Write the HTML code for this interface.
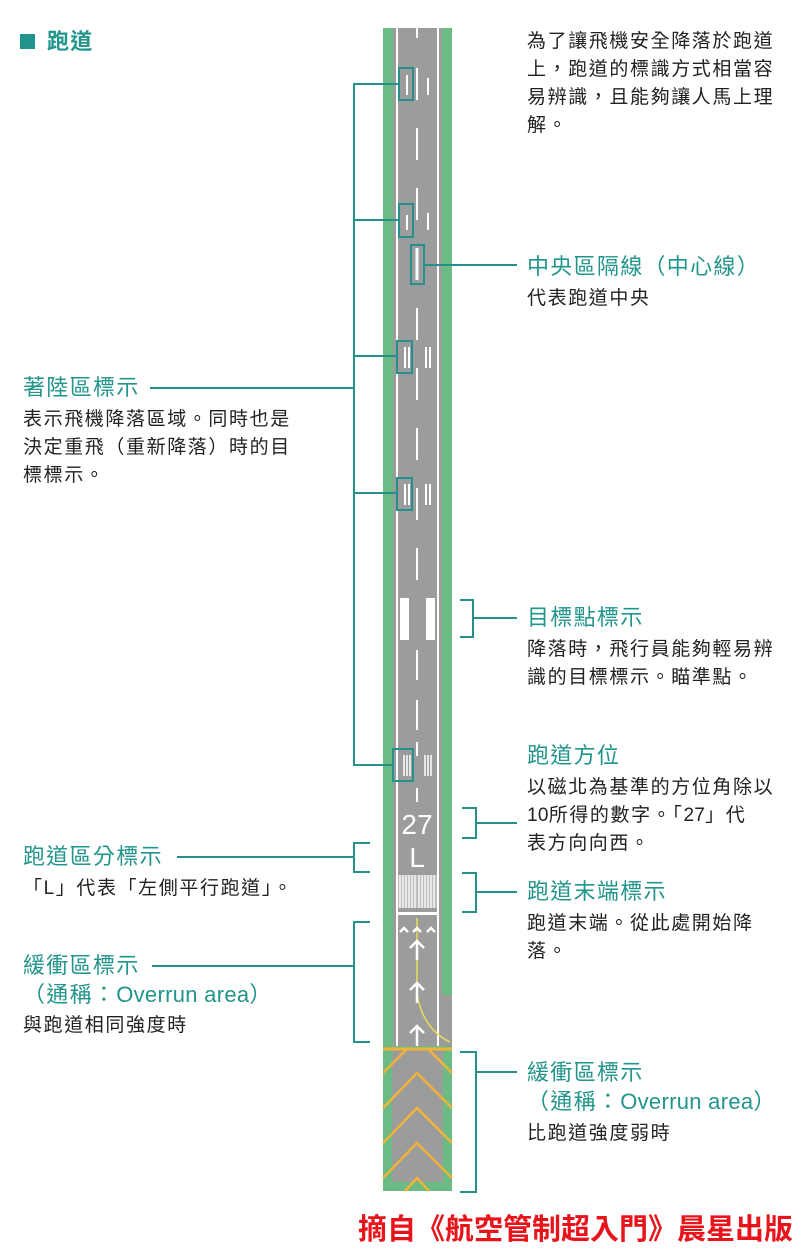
<!DOCTYPE html>
<html><head><meta charset="utf-8"><style>
body{margin:0;width:800px;height:1249px;background:#fff;position:relative;overflow:hidden;font-family:"Liberation Sans","Noto Sans CJK TC",sans-serif}
.t{position:absolute;color:#21958b;font-size:22px;letter-spacing:1.3px;line-height:26px;white-space:nowrap}
.b{position:absolute;color:#222;font-size:19px;letter-spacing:1.6px;line-height:28px;white-space:nowrap}
.l{letter-spacing:0.3px}
svg{position:absolute;left:0;top:0}
</style></head><body>
<svg width="800" height="1249" viewBox="0 0 800 1249">
<rect x="383" y="28" width="69" height="1020" fill="#6cbb84"/>
<rect x="393" y="28" width="49" height="1018" fill="#9c9c9c"/>
<rect x="442" y="995" width="10" height="51" fill="#9c9c9c"/>
<line x1="397" y1="28" x2="397" y2="1046" stroke="#fff" stroke-width="2"/>
<line x1="438" y1="28" x2="438" y2="1046" stroke="#fff" stroke-width="2"/>
<g stroke="#fff" stroke-width="2">
<line x1="417" y1="28" x2="417" y2="38"/>
<line x1="417" y1="68" x2="417" y2="100"/>
<line x1="417" y1="128" x2="417" y2="160"/>
<line x1="417" y1="188" x2="417" y2="220"/>
<line x1="417" y1="248" x2="417" y2="280" stroke-width="3"/>
<line x1="417" y1="308" x2="417" y2="340"/>
<line x1="417" y1="368" x2="417" y2="400"/>
<line x1="417" y1="428" x2="417" y2="460"/>
<line x1="417" y1="488" x2="417" y2="520"/>
<line x1="417" y1="548" x2="417" y2="580"/>
<line x1="417" y1="650" x2="417" y2="680"/>
<line x1="417" y1="700" x2="417" y2="730"/>
<line x1="417" y1="742" x2="417" y2="756"/>
<line x1="417" y1="788" x2="417" y2="802"/>
<line x1="407" y1="75" x2="407" y2="95"/>
<line x1="428" y1="78" x2="428" y2="95"/>
<line x1="407" y1="215" x2="407" y2="230"/>
<line x1="428" y1="213" x2="428" y2="230"/>
<line x1="405" y1="347" x2="405" y2="368"/><line x1="409" y1="347" x2="409" y2="368"/>
<line x1="426" y1="347" x2="426" y2="368"/><line x1="430" y1="347" x2="430" y2="368"/>
<line x1="405" y1="484" x2="405" y2="505"/><line x1="409" y1="484" x2="409" y2="505"/>
<line x1="426" y1="484" x2="426" y2="505"/><line x1="430" y1="484" x2="430" y2="505"/>
<line x1="404" y1="755" x2="404" y2="776" stroke-width="1.5"/><line x1="407" y1="755" x2="407" y2="776" stroke-width="1.5"/><line x1="410" y1="755" x2="410" y2="776" stroke-width="1.5"/>
<line x1="425" y1="755" x2="425" y2="776" stroke-width="1.5"/><line x1="428" y1="755" x2="428" y2="776" stroke-width="1.5"/><line x1="431" y1="755" x2="431" y2="776" stroke-width="1.5"/>
</g>
<rect x="400" y="598" width="9" height="42" fill="#fff"/>
<rect x="426" y="598" width="9" height="42" fill="#fff"/>
<text x="417" y="834" text-anchor="middle" fill="#fff" font-size="28" font-family="Liberation Sans,sans-serif">27</text>
<text x="417" y="867" text-anchor="middle" fill="#fff" font-size="28" font-family="Liberation Sans,sans-serif">L</text>
<g stroke="#fff" stroke-width="1.3">
<line x1="400" y1="875" x2="400" y2="908"/><line x1="403" y1="875" x2="403" y2="908"/><line x1="406" y1="875" x2="406" y2="908"/><line x1="409" y1="875" x2="409" y2="908"/><line x1="412" y1="875" x2="412" y2="908"/><line x1="415" y1="875" x2="415" y2="908"/><line x1="419" y1="875" x2="419" y2="908"/><line x1="422" y1="875" x2="422" y2="908"/><line x1="425" y1="875" x2="425" y2="908"/><line x1="428" y1="875" x2="428" y2="908"/><line x1="431" y1="875" x2="431" y2="908"/><line x1="434" y1="875" x2="434" y2="908"/>
</g>
<rect x="397" y="875" width="41" height="33" fill="#fff" opacity="0.35"/>
<rect x="396" y="912" width="43" height="3" fill="#fff"/>
<path d="M417 918 L417 995 Q424 1030 450 1042" stroke="#e6df5a" stroke-width="1.5" fill="none"/>
<g stroke="#fff" stroke-width="2.5" fill="none">
<path d="M400 932 l4 -4 l4 4"/><path d="M413 932 l4 -4 l4 4"/><path d="M427 932 l4 -4 l4 4"/>
<path d="M410 948 l7 -7 l7 7"/><path d="M410 990 l7 -7 l7 7"/><path d="M410 1033 l7 -7 l7 7"/>
<line x1="417" y1="941" x2="417" y2="960"/><line x1="417" y1="983" x2="417" y2="1003"/>
<line x1="417" y1="1026" x2="417" y2="1046"/>
</g>
<rect x="383" y="1046" width="69" height="145" fill="#6cbb84"/>
<rect x="392" y="1050" width="51" height="132" fill="#9c9c9c"/>
<line x1="383" y1="1049" x2="452" y2="1049" stroke="#f0b33a" stroke-width="3"/>
<g stroke="#f0b33a" stroke-width="2.5" fill="none">
<path d="M383 1073 L407 1049 M428 1049 L452 1073"/>
<path d="M383 1108 L417 1073 L452 1108"/>
<path d="M383 1143 L417 1108 L452 1143"/>
<path d="M383 1178 L417 1143 L452 1178"/>
<path d="M405 1191 L417 1178 L429 1191"/>
</g>
<g stroke="#24928a" stroke-width="2" fill="none">
<rect x="399" y="68" width="14" height="32"/>
<rect x="399" y="204" width="14" height="33"/>
<rect x="411" y="245" width="13" height="39"/>
<rect x="397" y="341" width="15" height="32"/>
<rect x="397" y="478" width="15" height="32"/>
<rect x="393" y="749" width="20" height="32"/>
<path d="M399 84 H354 V765 H393"/>
<path d="M354 220 H399 M354 356 H397 M354 493 H397"/>
<line x1="150" y1="388" x2="354" y2="388"/>
<line x1="424" y1="265" x2="517" y2="265"/>
<path d="M460 600 H473 V637 H460 M473 618 H517"/>
<path d="M462 808 H476 V838 H462 M476 823 H517"/>
<path d="M370 843 H354 V872 H370 M177 857 H354"/>
<path d="M462 873 H476 V912 H462 M476 892 H517"/>
<path d="M370 922 H354 V1042 H370 M152 966 H354"/>
<path d="M460 1052 H476 V1192 H460 M476 1072 H517"/>
</g>
<rect x="20" y="34" width="15" height="15" fill="#21958b"/>
</svg>
<div class="t" style="left:47px;top:29px;font-weight:bold">跑道</div>
<div class="b" style="left:527px;top:28px">為了讓飛機安全降落於跑道<br>上，跑道的標識方式相當容<br>易辨識，且能夠讓人馬上理<br>解。</div>
<div class="t" style="left:527px;top:254px">中央區隔線（中心線）</div>
<div class="b" style="left:527px;top:285px">代表跑道中央</div>
<div class="t" style="left:23px;top:375px">著陸區標示</div>
<div class="b" style="left:23px;top:406px">表示飛機降落區域。同時也是<br>決定重飛（重新降落）時的目<br>標標示。</div>
<div class="t" style="left:527px;top:605px">目標點標示</div>
<div class="b" style="left:527px;top:636px">降落時，飛行員能夠輕易辨<br>識的目標標示。瞄準點。</div>
<div class="t" style="left:527px;top:743px">跑道方位</div>
<div class="b" style="left:527px;top:774px">以磁北為基準的方位角除以<br><span class="l">10</span>所得的數字。「<span class="l">27</span>」代<br>表方向向西。</div>
<div class="t" style="left:23px;top:844px">跑道區分標示</div>
<div class="b" style="left:23px;top:875px">「L」代表「左側平行跑道」。</div>
<div class="t" style="left:527px;top:879px">跑道末端標示</div>
<div class="b" style="left:527px;top:910px">跑道末端。從此處開始降<br>落。</div>
<div class="t" style="left:23px;top:953px">緩衝區標示<br><span style="position:relative;top:3px">（通稱：<span class="l">Overrun area</span>）</span></div>
<div class="b" style="left:23px;top:1012px">與跑道相同強度時</div>
<div class="t" style="left:527px;top:1060px">緩衝區標示<br><span style="position:relative;top:3px">（通稱：<span class="l">Overrun area</span>）</span></div>
<div class="b" style="left:527px;top:1120px">比跑道強度弱時</div>
<div style="position:absolute;left:358px;top:1206px;color:#e8141b;font-size:29px;font-weight:bold;white-space:nowrap;font-family:'Liberation Sans','Noto Sans CJK TC',sans-serif">摘自《航空管制超入門》晨星出版</div>
</body></html>
